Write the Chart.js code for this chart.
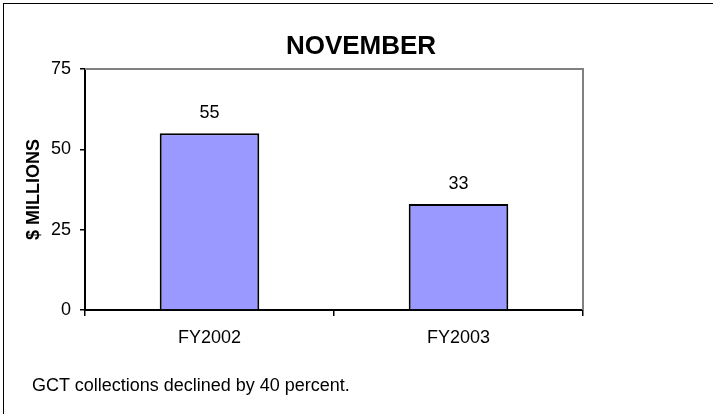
<!DOCTYPE html>
<html lang="en">
<head>
  <meta charset="UTF-8">
  <title>November</title>
  <script src="https://cdn.jsdelivr.net/npm/chart.js"></script>
  <style>
    html, body {
      margin: 0;
      padding: 0;
      background: #fff;
      overflow: hidden;
    }
    .wrap {
      position: relative;
      width: 713px;
      height: 414px;
      overflow: hidden;
      font-family: Arial, "Liberation Sans", sans-serif;
    }
    .frame {
      position: absolute;
      left: 3px;
      top: 3px;
      width: 800px;
      height: 500px;
      border: 1.5px solid #000;
    }
    .title {
      position: absolute;
      left: 0;
      width: 722px;
      top: 32px;
      text-align: center;
      font-size: 26px;
      font-weight: bold;
      line-height: 1;
    }
    .note {
      position: absolute;
      left: 32px;
      top: 376px;
      font-size: 18px;
      line-height: 1;
    }
    canvas {
      position: absolute;
      left: 0;
      top: 0;
    }
  </style>
</head>
<body>
  <div class="wrap">
    <div class="frame"></div>
    <canvas id="myChart" width="713" height="414"></canvas>
    <div class="title">NOVEMBER</div>
    <div class="note">GCT collections declined by 40 percent.</div>
  </div>

  <script>
    // data
    const years = ['FY2002', 'FY2003'];
    const collections = [55, 33];
    const yTicks = [0, 25, 50, 75];

    // gray frame on top/right of plot + value labels over bars
    const plotExtras = {
      id: 'plotExtras',
      afterDraw(chart) {
        const ctx = chart.ctx;
        const a = chart.chartArea;
        ctx.save();
        ctx.strokeStyle = '#808080';
        ctx.lineWidth = 2;
        ctx.beginPath();
        ctx.moveTo(a.left, a.top);
        ctx.lineTo(a.right, a.top);
        ctx.lineTo(a.right, a.bottom);
        ctx.stroke();

        ctx.fillStyle = '#000';
        ctx.font = '18px Arial, "Liberation Sans", sans-serif';
        ctx.textAlign = 'center';
        ctx.textBaseline = 'alphabetic';
        chart.getDatasetMeta(0).data.forEach((bar, i) => {
          ctx.fillText(collections[i], bar.x, bar.y - 15);
        });
        ctx.restore();
      }
    };

    const ctx = document.getElementById('myChart').getContext('2d');
    const myChart = new Chart(ctx, {
      type: 'bar',
      data: {
        labels: years,
        datasets: [{
          data: collections,
          backgroundColor: '#9999FF',
          borderColor: '#000',
          borderWidth: 2,
          categoryPercentage: 1,
          barPercentage: 0.4
        }]
      },
      options: {
        responsive: false,
        animation: false,
        layout: {
          padding: { left: 20, right: 130, top: 69, bottom: 64 }
        },
        plugins: {
          legend: { display: false },
          tooltip: { enabled: false }
        },
        scales: {
          x: {
            offset: true,
            grid: {
              offset: true,
              drawOnChartArea: false,
              drawTicks: true,
              tickLength: 6,
              color: '#000',
              lineWidth: 1.5
            },
            border: { color: '#000', width: 2 },
            ticks: {
              color: '#000',
              padding: 11,
              font: { family: 'Arial, "Liberation Sans", sans-serif', size: 18 }
            },
            afterFit(scale) { scale.height = 40; }
          },
          y: {
            min: 0,
            max: 75,
            afterBuildTicks(scale) {
              scale.ticks = yTicks.map(v => ({ value: v }));
            },
            grid: {
              drawOnChartArea: false,
              drawTicks: true,
              tickLength: 5,
              color: '#000',
              lineWidth: 1.5
            },
            border: { color: '#000', width: 2 },
            ticks: {
              color: '#000',
              padding: 9,
              font: { family: 'Arial, "Liberation Sans", sans-serif', size: 18 }
            },
            title: {
              display: true,
              text: '$ MILLIONS',
              color: '#000',
              padding: { top: 3, bottom: 0 },
              font: { family: 'Arial, "Liberation Sans", sans-serif', size: 18, weight: 'bold' }
            },
            afterFit(scale) { scale.width = 65; }
          }
        }
      },
      plugins: [plotExtras]
    });
  </script>
</body>
</html>
